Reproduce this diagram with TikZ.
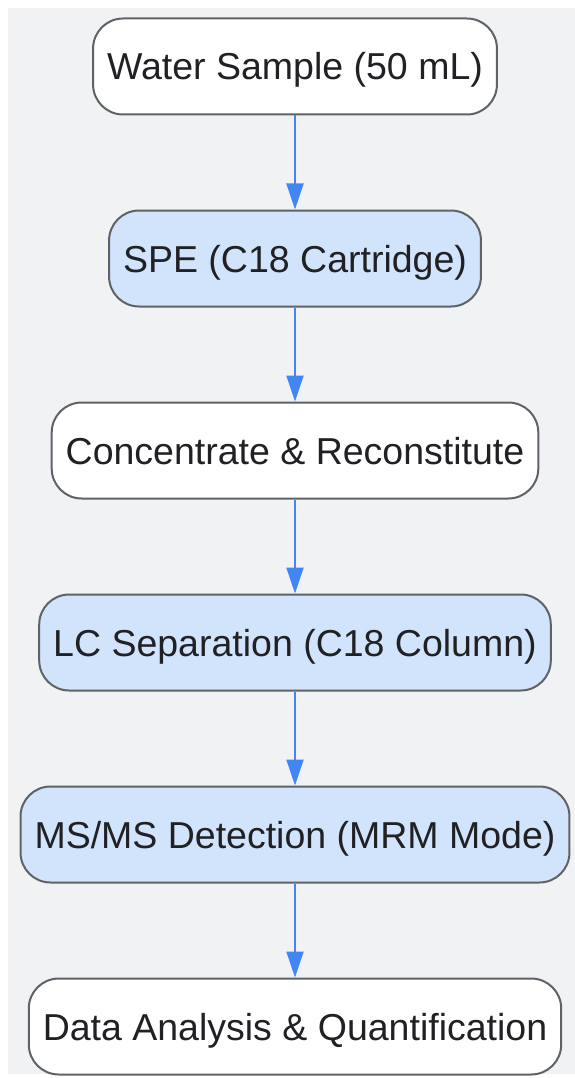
\documentclass[tikz,border=0pt]{standalone}
\usepackage{fontspec}
\setmainfont{Liberation Sans}
\usetikzlibrary{arrows.meta,positioning}
\definecolor{bgcolor}{RGB}{241,242,244}
\definecolor{edgecolor}{RGB}{95,99,104}
\definecolor{plaincolor}{RGB}{255,255,255}
\definecolor{stagecolor}{RGB}{210,227,252}
\definecolor{flowcolor}{RGB}{66,133,244}
\definecolor{textcolor}{RGB}{32,33,36}

\begin{document}
\begin{tikzpicture}[
    x=1pt, y=1pt,
    node distance=94pt,
    plain/.style={rectangle, rounded corners=30pt, draw=edgecolor, line width=2pt, fill=plaincolor, text=textcolor, font=\fontsize{37.5}{45}\selectfont, minimum height=96pt, inner xsep=14pt, text height=34pt, text depth=7pt},
    stage/.style={plain, fill=stagecolor},
    arrow/.style={-{Triangle[length=26pt,width=17pt]}, draw=flowcolor, line width=2pt}
]

% Background
\useasboundingbox (0,0) rectangle (575,-1078);
\fill[bgcolor] (8,-8) rectangle (575,-1074);

% Pipeline steps
\node[plain] (sample) at (295,-66.5) {Water Sample (50 mL)};
\node[stage, below=of sample] (spe) {SPE (C18 Cartridge)};
\node[plain, below=of spe] (concentrate) {Concentrate \& Reconstitute};
\node[stage, below=of concentrate] (lc) {LC Separation (C18 Column)};
\node[stage, below=of lc] (msms) {MS/MS Detection (MRM Mode)};
\node[plain, below=of msms] (analysis) {Data Analysis \& Quantification};

% Arrows
\draw[arrow] (sample) -- (spe);
\draw[arrow] (spe) -- (concentrate);
\draw[arrow] (concentrate) -- (lc);
\draw[arrow] (lc) -- (msms);
\draw[arrow] (msms) -- (analysis);

\end{tikzpicture}
\end{document}
